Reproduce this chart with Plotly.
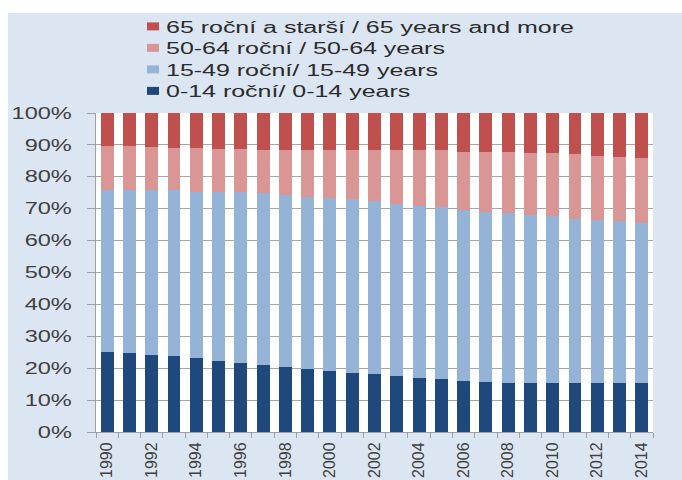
import plotly.graph_objects as go

years = list(range(1990, 2015))
age_0_14 = [25.0, 24.7, 24.0, 23.7, 23.1, 22.4, 21.7, 21.1, 20.5, 19.9, 19.2, 18.6, 18.2,
            17.6, 17.0, 16.7, 16.1, 15.7, 15.3, 15.3, 15.3, 15.3, 15.3, 15.3, 15.3]
age_15_49 = [50.8, 51.1, 51.8, 52.1, 52.2, 52.9, 53.4, 53.7, 53.9, 53.9, 54.3, 54.3, 54.1,
             54.0, 54.0, 53.7, 53.6, 53.4, 53.4, 52.7, 52.5, 51.5, 51.2, 50.8, 50.2]
age_50_64 = [13.8, 13.8, 13.4, 13.3, 13.8, 13.5, 13.7, 13.7, 14.1, 14.7, 15.0, 15.6, 16.2,
             16.7, 17.3, 17.9, 18.2, 18.8, 19.2, 19.6, 19.8, 20.2, 20.1, 20.2, 20.5]
age_65 = [10.4, 10.4, 10.8, 10.9, 10.9, 11.2, 11.2, 11.5, 11.5, 11.5, 11.5, 11.5, 11.5,
          11.7, 11.7, 11.7, 12.1, 12.1, 12.1, 12.4, 12.4, 13.0, 13.4, 13.7, 14.0]

names = ["0-14 roční/ 0-14 years", "15-49 roční/ 15-49 years",
         "50-64 roční / 50-64 years", "65 roční a starší / 65 years and more"]
colors = ["#1f497d", "#95b3d7", "#da9694", "#c0504d"]
series = [age_0_14, age_15_49, age_50_64, age_65]
x_ticks = list(range(1990, 2015, 2))

W, H = 682, 480
L, R, T, B = 96, 29, 113, 48
pw = W - L - R
ph = H - T - B


def px_x(p):
    return (p - L) / pw


def px_y(p):
    return (H - B - p) / ph


legend_ids = ["legend4", "legend3", "legend2", "legend"]
legend_rows = [91, 69.5, 48, 26.5]

fig = go.Figure()
for n, c, s, lg in zip(names, colors, series, legend_ids):
    fig.add_trace(go.Bar(x=years, y=s, name=n, legend=lg, showlegend=True,
                         marker=dict(color=c, line=dict(width=0))))

legend_font = dict(family="Liberation Sans, Arial, sans-serif", size=16, color="#2b2b2b")
legends = {}
for lg, row in zip(legend_ids, legend_rows):
    legends[lg] = dict(x=px_x(126), xanchor="left", y=px_y(row), yanchor="middle",
                       bgcolor="rgba(0,0,0,0)", font=legend_font, itemwidth=30,
                       borderwidth=0)

bg = "#dce6f2"
fig.update_layout(
    width=W, height=H,
    showlegend=True,
    margin=dict(l=L, r=R, t=T, b=B, pad=0, autoexpand=False),
    barmode="stack", bargap=0.42,
    paper_bgcolor=bg, plot_bgcolor="white",
    font=dict(family="Liberation Sans, Arial, sans-serif", size=16, color="#404040"),
    xaxis=dict(range=[1989.5, 2014.5], tickvals=x_ticks, ticktext=[str(v) for v in x_ticks],
               tickangle=-90, ticks="", showgrid=False, showline=True, linecolor="#a0a0a0",
               linewidth=1, ticklabelstandoff=3, automargin=False,
               tickfont=dict(family="Liberation Sans, Arial, sans-serif", size=16, color="#404040"),
               minor=dict(ticks="outside", tick0=1989.5, dtick=1, ticklen=5, tickcolor="#a0a0a0",
                          showgrid=False),
               fixedrange=True, zeroline=False),
    yaxis=dict(range=[0, 100], dtick=10, ticksuffix="%", showgrid=True, gridcolor="#a6a6a6",
               gridwidth=1, ticks="outside", ticklen=8, tickcolor="#a0a0a0", showline=True,
               linecolor="#a0a0a0", linewidth=1, zeroline=False, ticklabelstandoff=12,
               fixedrange=True, automargin=False,
               tickfont=dict(family="Liberation Sans, Arial, sans-serif", size=16, color="#404040")),
    shapes=[
        dict(type="rect", xref="paper", yref="paper", x0=px_x(-5), x1=px_x(W + 5),
             y0=px_y(13), y1=px_y(-5), fillcolor="white", line=dict(width=0), layer="below"),
        dict(type="rect", xref="paper", yref="paper", x0=px_x(-5), x1=px_x(8),
             y0=px_y(H + 5), y1=px_y(-5), fillcolor="white", line=dict(width=0), layer="below"),
    ],
    **legends,
)

post = """
document.body.style.margin = '0';
var gd = document.getElementById('{plot_id}');
function stretchOne(t, f) {
  t.removeAttribute('textLength');
  t.removeAttribute('lengthAdjust');
  var w = t.getComputedTextLength();
  if (w > 0) {
    t.setAttribute('textLength', (w * f).toFixed(1));
    t.setAttribute('lengthAdjust', 'spacingAndGlyphs');
  }
}
function fixText() {
  gd.querySelectorAll('.infolayer g.traces text').forEach(function (t) { stretchOne(t, 1.56); });
  gd.querySelectorAll('.ytick text').forEach(function (t) { stretchOne(t, 1.47); });
  gd.querySelectorAll('g.scrollbox').forEach(function (g) { g.removeAttribute('clip-path'); });
  gd.querySelectorAll('.infolayer g.legendpoints path').forEach(function (p) {
    p.setAttribute('d', 'M13,4H1V-4H13Z');
  });
}
fixText();
if (gd.on) { gd.on('plotly_afterplot', fixText); }
setTimeout(fixText, 30);
setTimeout(fixText, 200);
"""

fig.write_html("out.html", post_script=post, config={"displayModeBar": False})
